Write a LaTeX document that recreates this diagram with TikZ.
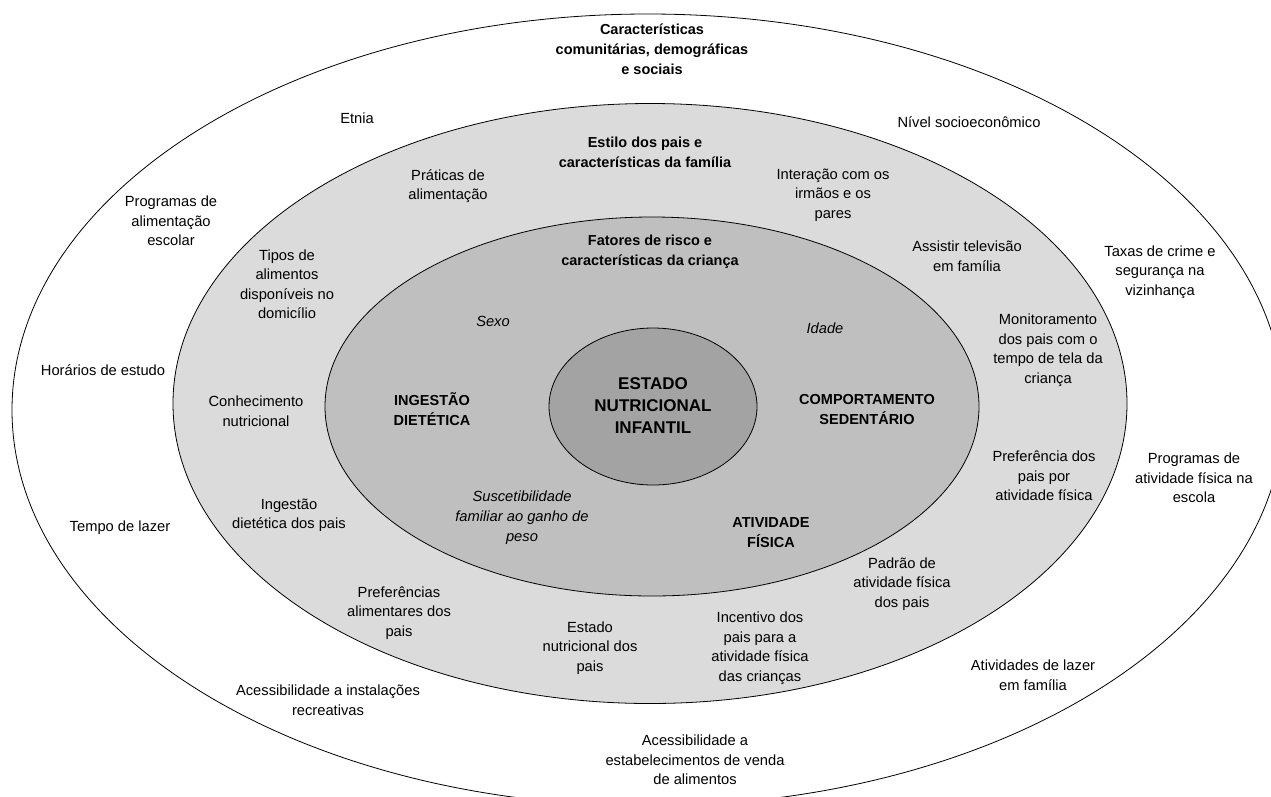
\documentclass[tikz,border=0pt]{standalone}
\usepackage{fontspec}
\setmainfont{Liberation Sans}
\definecolor{ringmid}{gray}{0.86}
\definecolor{ringin}{gray}{0.75}
\definecolor{ringcore}{gray}{0.64}

\begin{document}
\begin{tikzpicture}[x=1pt,y=-1pt,ring/.style={draw=black,line width=0.8pt},
    label node/.style={align=center,inner sep=0pt,font=\fontsize{14.7}{19.5}\selectfont},
    head node/.style={align=center,inner sep=0pt,font=\bfseries\fontsize{14.5}{20}\selectfont},
    risk node/.style={align=center,inner sep=0pt,font=\itshape\fontsize{14.7}{20}\selectfont},
    core node/.style={align=center,inner sep=0pt,font=\bfseries\fontsize{17}{22}\selectfont}]
    \clip (0,0) rectangle (1271,796);

    % the four rings
    \draw[ring,fill=white] (648,410) ellipse [x radius=636pt,y radius=396pt];
    \draw[ring,fill=ringmid] (650,403.5) ellipse [x radius=477pt,y radius=300pt];
    \draw[ring,fill=ringin] (652,406.5) ellipse [x radius=327pt,y radius=189.5pt];
    \draw[ring,fill=ringcore] (653,406.5) ellipse [x radius=104pt,y radius=78.5pt];

    % outer ring: community
    \node[head node] (community) at (652,49) {Características\\comunitárias, demográficas\\e sociais};
    \node[label node] (etnia) at (357,118) {Etnia};
    \node[label node] (nivel) at (969,122) {Nível socioeconômico};
    \node[label node] (progalim) at (171,221) {Programas de\\alimentação\\escolar};
    \node[label node] (horarios) at (103,370) {Horários de estudo};
    \node[label node] (lazer) at (120,528) {Tempo de lazer};
    \node[label node] (instal) at (328,700) {Acessibilidade a instalações\\recreativas};
    \node[label node] (venda) at (695,760) {Acessibilidade a\\estabelecimentos de venda\\de alimentos};
    \node[label node] (ativlazer) at (1033,675) {Atividades de lazer\\em família};
    \node[label node] (progativ) at (1194,478) {Programas de\\atividade física na\\escola};
    \node[label node] (crime) at (1160,272) {Taxas de crime e\\segurança na\\vizinhança};

    % middle ring: family
    \node[head node] (family) at (645,152) {Estilo dos pais e\\características da família};
    \node[label node] (praticas) at (448,186) {Práticas de\\alimentação};
    \node[label node] (interacao) at (833,195) {Interação com os\\irmãos e os\\pares};
    \node[label node] (tv) at (967,256) {Assistir televisão\\em família};
    \node[label node] (tipos) at (287,284) {Tipos de\\alimentos\\disponíveis no\\domicílio};
    \node[label node] (monitor) at (1048,350) {Monitoramento\\dos pais com o\\tempo de tela da\\criança};
    \node[label node] (conhec) at (256,411) {Conhecimento\\nutricional};
    \node[label node] (prefativ) at (1044,476) {Preferência dos\\pais por\\atividade física};
    \node[label node] (ingpais) at (289,515) {Ingestão\\dietética dos pais};
    \node[label node] (padrao) at (902,584) {Padrão de\\atividade física\\dos pais};
    \node[label node] (prefalim) at (399,613) {Preferências\\alimentares dos\\pais};
    \node[label node] (estpais) at (590,648) {Estado\\nutricional dos\\pais};
    \node[label node] (incentivo) at (760,648) {Incentivo dos\\pais para a\\atividade física\\das crianças};

    % inner ring: child
    \node[head node] (child) at (650,252) {Fatores de risco e\\características da criança};
    \node[risk node] (sexo) at (493,321) {Sexo};
    \node[risk node] (idade) at (825,328) {Idade};
    \node[risk node] (suscet) at (522,518) {Suscetibilidade\\familiar ao ganho de\\peso};
    \node[head node] (ingestao) at (432,409) {INGESTÃO\\DIETÉTICA};
    \node[head node] (sedent) at (867,409) {COMPORTAMENTO\\SEDENTÁRIO};
    \node[head node] (atividade) at (771,533) {ATIVIDADE\\FÍSICA};

    % core
    \node[core node] (estado) at (653,406) {ESTADO\\NUTRICIONAL\\INFANTIL};
\end{tikzpicture}
\end{document}
